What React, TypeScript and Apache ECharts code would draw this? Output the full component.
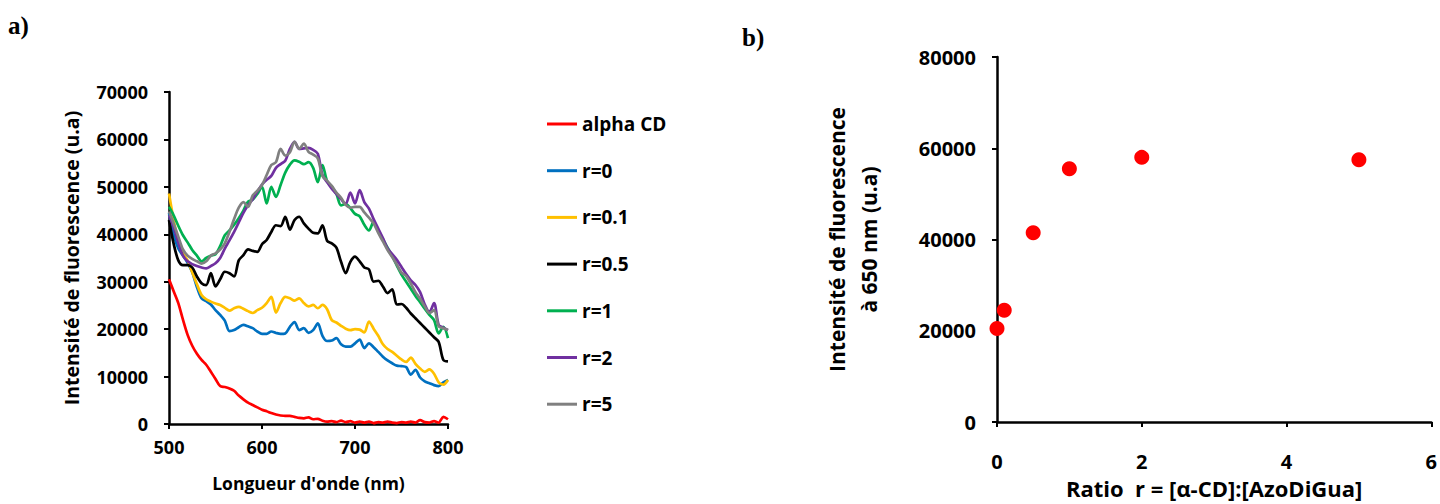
import React, { useEffect, useRef } from "react";
import * as echarts from "echarts";

const wavelengths: number[] = [];
for (let w = 500; w <= 800; w += 5) wavelengths.push(w);

const alphaCD = [30500, 28000, 25500, 22000, 18800, 16500, 14800, 13500, 12500, 11000, 9500, 8000, 7800, 7500, 7000, 6000, 5200, 4500, 4000, 3500, 3000, 2700, 2300, 2000, 1800, 1700, 1700, 1500, 1300, 1200, 1400, 1000, 1100, 700, 500, 600, 400, 700, 400, 600, 300, 500, 300, 500, 200, 400, 300, 500, 300, 200, 400, 300, 500, 300, 800, 400, 300, 600, 300, 1500, 1000];
const r0 = [44500, 40000, 37000, 35500, 34000, 32000, 28900, 26500, 25900, 25200, 24000, 23000, 21800, 19600, 19800, 20400, 20900, 20600, 20200, 19500, 19000, 19000, 19500, 19200, 19000, 19100, 20500, 21500, 19800, 20200, 19200, 19800, 21200, 18600, 17500, 17600, 18100, 16800, 16300, 16300, 17000, 17800, 16000, 17000, 16200, 15200, 14200, 13400, 12800, 12300, 12200, 12000, 10400, 11400, 9800, 9000, 8600, 8200, 8000, 8800, 9300];
const r01 = [48600, 43000, 38500, 36000, 34500, 32000, 29500, 27200, 26300, 25800, 25400, 25100, 24500, 23900, 24400, 24700, 24300, 23800, 23400, 24000, 24500, 25500, 26800, 23500, 25500, 26800, 26500, 26000, 26500, 25500, 24800, 25100, 24400, 25100, 24200, 21900, 21400, 20700, 20100, 19800, 20000, 19900, 19300, 21600, 20100, 18600, 16800, 15800, 15200, 14400, 13600, 13100, 14000, 12700, 11700, 11000, 11500, 10600, 8800, 8300, 9300];
const r05 = [43000, 38000, 34500, 33500, 33500, 33000, 31100, 29700, 29300, 31800, 29000, 30500, 32100, 31800, 31100, 34500, 35600, 36800, 36500, 36300, 37900, 38800, 40500, 41900, 41700, 43700, 41000, 43000, 43700, 42300, 41200, 40300, 40200, 41900, 38600, 38100, 37200, 34200, 31800, 34200, 35300, 34300, 33000, 32600, 30000, 30200, 29000, 27600, 28400, 25200, 25300, 24500, 23300, 22300, 21300, 20300, 19300, 18300, 17300, 13500, 13200];
const r1 = [45800, 44000, 41800, 39800, 38300, 36700, 35500, 34300, 35000, 35500, 35800, 37500, 39800, 40800, 42000, 43400, 45000, 46900, 47300, 48500, 50000, 46500, 50000, 47900, 50400, 53000, 54700, 55600, 55300, 54800, 55200, 54000, 51000, 54600, 51200, 50000, 48500, 46100, 46400, 45500, 44300, 43800, 42000, 40800, 42600, 40800, 39000, 37200, 35400, 33400, 31500, 30000, 28500, 27000, 25700, 24300, 23000, 21900, 19100, 20500, 18100];
const r2 = [44000, 41500, 38200, 35500, 34300, 33700, 33300, 33000, 32800, 33300, 33900, 35000, 37000, 38700, 40500, 42500, 44500, 46100, 47400, 49000, 50500, 51500, 52300, 54000, 54800, 55500, 58000, 59500, 58000, 58100, 58200, 57800, 57000, 52500, 51000, 49600, 48500, 47400, 46400, 48800, 46500, 49300, 46800, 45400, 43200, 41200, 39200, 37000, 35800, 34600, 33100, 31600, 30300, 29300, 27800, 25200, 23600, 25500, 20900, 20300, 19800];
const r5 = [44800, 42300, 39500, 36800, 35500, 34800, 34300, 33800, 34300, 35500, 36000, 36800, 38100, 40500, 43200, 45600, 46800, 45800, 48200, 49200, 50400, 52500, 54600, 55200, 58000, 56600, 57300, 59500, 58000, 59100, 57400, 56800, 56000, 52300, 51300, 50200, 48800, 47700, 46200, 45600, 45800, 45800, 44600, 43500, 42300, 40300, 38500, 36700, 35200, 33600, 31900, 31200, 29600, 27800, 26400, 24800, 23400, 24000, 20600, 20200, 19800];

const seriesNames = ["alpha CD", "r=0", "r=0.1", "r=0.5", "r=1", "r=2", "r=5"];
const seriesColors = ["#FF0000", "#0070C0", "#FFC000", "#000000", "#00B050", "#7030A0", "#808080"];
const seriesData = [alphaCD, r0, r01, r05, r1, r2, r5];

const ratios = [0, 0.1, 0.5, 1, 2, 5];
const intensity650 = [20500, 24500, 41500, 55500, 58000, 57500];

const FONT = "Open Sans";

export default function App() {
  const ref = useRef<HTMLDivElement>(null);
  useEffect(() => {
    if (!ref.current) return;
    const chart = echarts.init(ref.current, undefined, { renderer: "svg" });
    const axisLine = { show: true, lineStyle: { color: "#000", width: 2.5 } };
    const axisTick = { show: true, inside: false, length: 5, lineStyle: { color: "#000", width: 2 } };
    const plain = (v: number) => String(v);
    const label = (size: number, margin: number) => ({
      color: "#000", fontWeight: "bold" as const, fontFamily: FONT, fontSize: size, margin, formatter: plain,
    });
    const nameStyle = (size: number, extra: any = {}) => ({
      color: "#000", fontWeight: "bold", fontFamily: FONT, fontSize: size, ...extra,
    });
    const option: any = {
      animation: false,
      backgroundColor: "#fff",
      grid: [
        { left: 169, right: 992, top: 92, bottom: 80, containLabel: false },
        { left: 997, right: 4, top: 57, bottom: 77, containLabel: false },
      ],
      legend: {
        orient: "vertical",
        left: 547,
        top: 114,
        padding: 0,
        itemWidth: 30,
        itemHeight: 3,
        itemGap: 26.7,
        icon: "rect",
        data: seriesNames,
        textStyle: { color: "#000", fontWeight: "bold", fontFamily: FONT, fontSize: 19, lineHeight: 20 },
      },
      xAxis: [
        {
          gridIndex: 0, type: "value", min: 500, max: 800, interval: 100,
          axisLine, axisTick, axisLabel: label(18, 14), splitLine: { show: false },
          name: "Longueur d'onde (nm)", nameLocation: "middle", nameGap: 50,
          nameTextStyle: nameStyle(17.5),
        },
        {
          gridIndex: 1, type: "value", min: 0, max: 6, interval: 2,
          axisLine, axisTick, axisLabel: label(20, 29), splitLine: { show: false },
          name: "Ratio  r = [α-CD]:[AzoDiGua]", nameLocation: "middle", nameGap: 55,
          nameTextStyle: nameStyle(22),
        },
      ],
      yAxis: [
        {
          gridIndex: 0, type: "value", min: 0, max: 70000, interval: 10000,
          axisLine, axisTick, axisLabel: label(18, 21), splitLine: { show: false },
          name: "Intensité de fluorescence (u.a)", nameLocation: "middle", nameGap: 88, nameRotate: 90,
          nameTextStyle: nameStyle(19.5),
        },
        {
          gridIndex: 1, type: "value", min: 0, max: 80000, interval: 20000,
          axisLine, axisTick, axisLabel: label(20, 21), splitLine: { show: false },
          name: "Intensité de fluorescence\nà 650 nm (u.a)", nameLocation: "middle", nameGap: 112, nameRotate: 90,
          nameTextStyle: nameStyle(21, { lineHeight: 32 }),
        },
      ],
      series: [
        ...seriesNames.map((name, i) => ({
          name,
          type: "line",
          xAxisIndex: 0,
          yAxisIndex: 0,
          data: wavelengths.map((w, j) => [w, seriesData[i][j]]),
          showSymbol: false,
          smooth: 0.3,
          lineStyle: { color: seriesColors[i], width: 2.7 },
          itemStyle: { color: seriesColors[i] },
        })),
        {
          name: "ratio",
          type: "scatter",
          xAxisIndex: 1,
          yAxisIndex: 1,
          data: ratios.map((r, i) => [r, intensity650[i]]),
          symbolSize: 15,
          itemStyle: { color: "#FF0000", opacity: 1 },
        },
      ],
      graphic: [
        { type: "text", left: 8, top: 13, style: { text: "a)", font: "bold 25px 'Liberation Serif'", fill: "#000" } },
        { type: "text", left: 742, top: 25, style: { text: "b)", font: "bold 25px 'Liberation Serif'", fill: "#000" } },
      ],
    };
    chart.setOption(option);
    return () => chart.dispose();
  }, []);
  return <div ref={ref} style={{ position: "fixed", left: 0, top: 0, width: 1440, height: 504 }} />;
}
